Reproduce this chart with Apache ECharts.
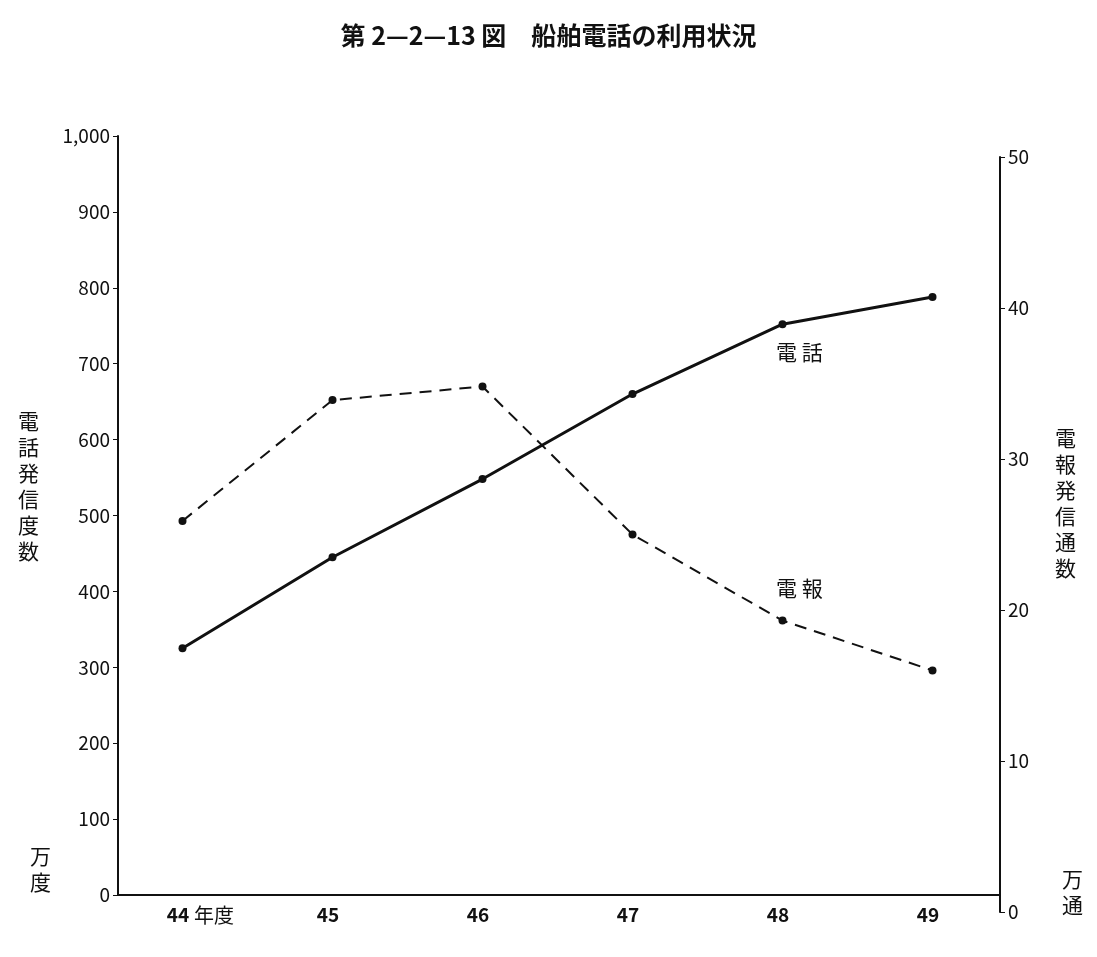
<!DOCTYPE html>
<html>
<head>
    <meta charset="UTF-8">
    <title>船舶電話の利用状況</title>
    <script src="https://cdn.jsdelivr.net/npm/echarts@6/dist/echarts.min.js"></script>
</head>
<body style="margin:0;background:#fff;">
<div id="chart" style="width:1097px;height:957px"></div>
<script type="text/javascript">
    var years = [44, 45, 46, 47, 48, 49];
    var phone = [325, 445, 548, 660, 752, 788];      // 万度
    var telegram = [25.9, 33.9, 34.8, 25.0, 19.3, 16.0]; // 万通

    var font = '"Noto Sans CJK JP", "Noto Sans", sans-serif';
    var pair = function (xs, ys) {
        return xs.map(function (x, i) { return [x + 0.03, ys[i]]; });
    };
    var chart = echarts.init(document.getElementById('chart'));
    chart.setOption({
        backgroundColor: '#fff',
        animation: false,
        textStyle: {fontFamily: font, color: '#111'},
        title: {
            text: '第 2—2—13 図　船舶電話の利用状況',
            left: 'center', top: 18,
            textStyle: {fontSize: 25, fontWeight: 'bold', color: '#111', fontFamily: font}
        },
        grid: [
            {left: 118, right: 97, top: 136, bottom: 62},
            {left: 118, right: 97, top: 157, bottom: 45}
        ],
        xAxis: [{
            type: 'value', gridIndex: 0, min: 43.6, max: 49.48,
            splitLine: {show: false},
            axisLine: {lineStyle: {color: '#111', width: 2}},
            axisTick: {show: false},
            axisLabel: {customValues: years, fontSize: 19, fontWeight: 'bold', color: '#111', margin: 10,
                formatter: function (v) { return String(v); }}
        }, {
            type: 'value', gridIndex: 1, min: 43.6, max: 49.48, show: false
        }],
        yAxis: [{
            type: 'value', gridIndex: 0, min: 0, max: 1000, interval: 100,
            splitLine: {show: false},
            axisLine: {show: true, lineStyle: {color: '#111', width: 2}},
            axisTick: {show: true, lineStyle: {color: '#111'}},
            axisLabel: {fontSize: 19, color: '#111',
                formatter: function (v) { return v === 1000 ? '1,000' : String(v); }}
        }, {
            type: 'value', gridIndex: 1, position: 'right', min: 0, max: 50, interval: 10,
            splitLine: {show: false},
            axisLine: {show: true, lineStyle: {color: '#111', width: 2}},
            axisTick: {show: true, lineStyle: {color: '#111'}},
            axisLabel: {fontSize: 19, color: '#111'}
        }],
        series: [{
            name: '電話', type: 'line', xAxisIndex: 0, yAxisIndex: 0,
            data: pair(years, phone),
            symbol: 'circle', symbolSize: 8,
            itemStyle: {color: '#111'},
            lineStyle: {color: '#111', width: 3}
        }, {
            name: '電報', type: 'line', xAxisIndex: 1, yAxisIndex: 1,
            data: pair(years, telegram),
            symbol: 'circle', symbolSize: 8,
            itemStyle: {color: '#111'},
            lineStyle: {color: '#111', width: 2, type: [12, 8]}
        }],
        graphic: [
            {type: 'text', left: 776, top: 342, style: {text: '電 話', font: '21px ' + font, fill: '#111'}},
            {type: 'text', left: 776, top: 578, style: {text: '電 報', font: '21px ' + font, fill: '#111'}},
            {type: 'text', left: 18, top: 408, style: {text: '電\n話\n発\n信\n度\n数', font: '21px ' + font, fill: '#111', lineHeight: 26}},
            {type: 'text', left: 1055, top: 425, style: {text: '電\n報\n発\n信\n通\n数', font: '21px ' + font, fill: '#111', lineHeight: 26}},
            {type: 'text', left: 30, top: 843, style: {text: '万\n度', font: '21px ' + font, fill: '#111', lineHeight: 26}},
            {type: 'text', left: 1062, top: 866, style: {text: '万\n通', font: '21px ' + font, fill: '#111', lineHeight: 26}},
            {type: 'text', left: 194, top: 905, style: {text: '年度', font: '20px ' + font, fill: '#111'}}
        ]
    });
</script>
</body>
</html>
